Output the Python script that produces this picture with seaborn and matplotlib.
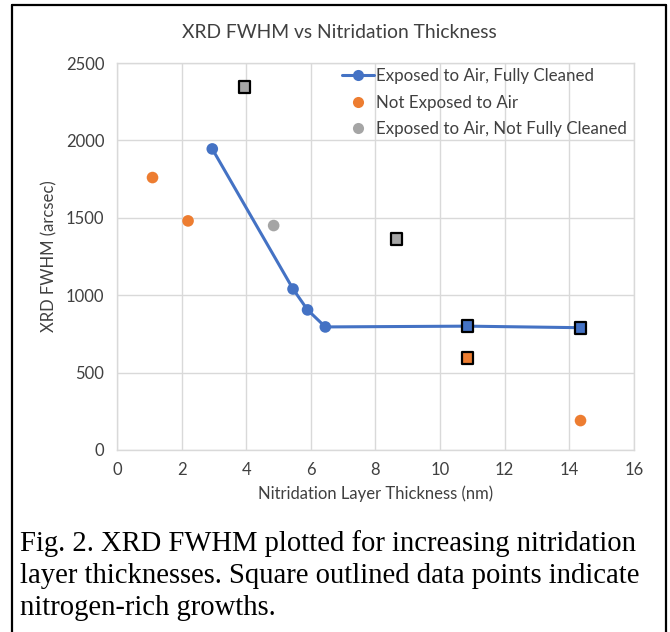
import matplotlib
matplotlib.use("Agg")
import matplotlib.pyplot as plt
import seaborn as sns
import pandas as pd
from matplotlib.lines import Line2D

# ---- data ----
clean_x = [2.95, 5.45, 5.9, 6.45, 10.85, 14.35]
clean_y = [1945, 1040, 905, 795, 800, 790]
clean_rich = [False, False, False, False, True, True]

notexp_x = [1.1, 2.2, 10.85, 14.35]
notexp_y = [1760, 1480, 595, 190]
notexp_rich = [False, False, True, False]

notclean_x = [3.95, 4.85, 8.65]
notclean_y = [2345, 1450, 1365]
notclean_rich = [True, False, True]

series_names = ["Exposed to Air, Fully Cleaned", "Not Exposed to Air",
                "Exposed to Air, Not Fully Cleaned"]
x_ticks = [0, 2, 4, 6, 8, 10, 12, 14, 16]
y_ticks = [0, 500, 1000, 1500, 2000, 2500]

title = "XRD FWHM vs Nitridation Thickness"
xlabel = "Nitridation Layer Thickness (nm)"
ylabel = "XRD FWHM (arcsec)"
caption_lines = ["Fig. 2. XRD FWHM plotted for increasing nitridation",
                 "layer thicknesses. Square outlined data points indicate",
                 "nitrogen-rich growths."]

BLUE, ORANGE, GRAY = "#4472C4", "#ED7D31", "#A5A5A5"
colors = [BLUE, ORANGE, GRAY]

df = pd.concat([
    pd.DataFrame({"x": clean_x, "y": clean_y, "rich": clean_rich, "s": series_names[0]}),
    pd.DataFrame({"x": notexp_x, "y": notexp_y, "rich": notexp_rich, "s": series_names[1]}),
    pd.DataFrame({"x": notclean_x, "y": notclean_y, "rich": notclean_rich, "s": series_names[2]}),
], ignore_index=True)

sns.set_style("white")
plt.rcParams["font.family"] = ["Lato", "DejaVu Sans"]

fig = plt.figure(figsize=(6.70, 6.32), dpi=100)
ax = fig.add_axes([0.1746, 0.288, 0.946 - 0.1746, 0.9003 - 0.288])

# line
sns.lineplot(data=df[df.s == series_names[0]], x="x", y="y", color=BLUE,
             linewidth=2.2, ax=ax, legend=False, sort=False, zorder=2)

palette = dict(zip(series_names, colors))
# circles
sns.scatterplot(data=df[~df.rich], x="x", y="y", hue="s", palette=palette,
                marker="o", s=70, linewidth=0, ax=ax, legend=False, zorder=3)
# squares (nitrogen-rich)
sns.scatterplot(data=df[df.rich], x="x", y="y", hue="s", palette=palette,
                marker="s", s=70, edgecolor="black", linewidth=1.6, ax=ax,
                legend=False, zorder=4)

ax.set_xlim(0, 16)
ax.set_ylim(0, 2500)
ax.set_xticks(x_ticks)
ax.set_yticks(y_ticks)
ax.set_xticklabels([str(t) for t in x_ticks])
ax.set_yticklabels([str(t) for t in y_ticks])
ax.tick_params(axis="both", length=0, labelsize=12, colors="#404040", pad=9)
ax.grid(True, color="#D9D9D9", linewidth=1)
for sp in ax.spines.values():
    sp.set_color("#D9D9D9")
    sp.set_linewidth(1)
ax.set_xlabel(xlabel, fontsize=12, color="#404040", labelpad=5)
ax.set_ylabel(ylabel, fontsize=12, color="#404040", labelpad=6)

handles = [
    Line2D([0], [0], color=BLUE, lw=2.2, marker="o", markersize=8, markeredgewidth=0),
    Line2D([0], [0], color=ORANGE, lw=0, marker="o", markersize=8, markeredgewidth=0),
    Line2D([0], [0], color=GRAY, lw=0, marker="o", markersize=8, markeredgewidth=0),
]
leg = ax.legend(handles, series_names, loc="upper right", bbox_to_anchor=(1.0, 1.004),
                frameon=False, fontsize=12.2, handlelength=1.9, handletextpad=0.1,
                labelspacing=0.62, borderaxespad=0.0)
for t in leg.get_texts():
    t.set_color("#404040")

fig.text(0.506, 0.949, title, ha="center", va="center", fontsize=13.9, color="#404040")

for i, line in enumerate(caption_lines):
    fig.text(0.03, 1 - (544 + i * 32) / 632, line, ha="left", va="center",
             fontsize=20.6, family=["Liberation Serif"], color="black")

# outer border (left, top, right)
fig.add_artist(Line2D([12 / 670, 12 / 670], [0, 1 - 5 / 632], transform=fig.transFigure,
                      color="black", lw=1.6))
fig.add_artist(Line2D([12 / 670, 666 / 670], [1 - 5 / 632, 1 - 5 / 632],
                      transform=fig.transFigure, color="black", lw=1.6))
fig.add_artist(Line2D([666 / 670, 666 / 670], [0, 1 - 5 / 632], transform=fig.transFigure,
                      color="black", lw=1.6))

fig.savefig("out.png", dpi=100, facecolor="white")
